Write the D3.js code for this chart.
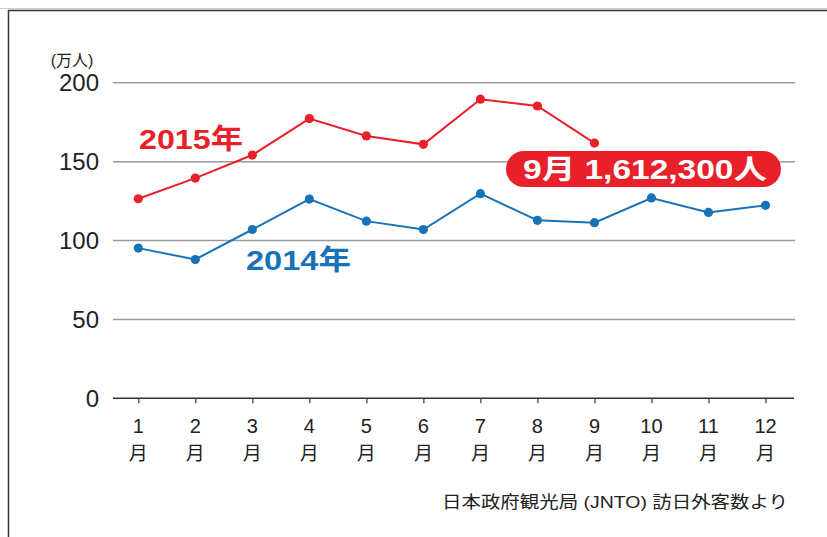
<!DOCTYPE html>
<html><head><meta charset="utf-8">
<script src="https://cdn.jsdelivr.net/npm/d3@7"></script>
<style>
html,body{margin:0;padding:0;background:#fff;}
svg{display:block;}
text{font-family:"Liberation Sans","Noto Sans CJK JP",sans-serif;}
</style></head>
<body>
<svg id="c" width="827" height="537"></svg>
<script>
const months = ["1","2","3","4","5","6","7","8","9","10","11","12"];
const values2014 = [95.2, 88.0, 107.0, 126.3, 112.3, 107.0, 129.7, 112.8, 111.3, 127.0, 117.8, 122.3];
const values2015 = [126.5, 139.6, 154.2, 177.3, 166.3, 161.0, 189.6, 185.3, 161.8];
const yTicks = [0, 50, 100, 150, 200];
const unitLabel = "(万人)";
const label2015 = "2015年";
const label2014 = "2014年";
const callout = "9月 1,612,300人";
const source = "日本政府観光局 (JNTO) 訪日外客数より";

const red = "#e8202a", blue = "#1872b8";
const svg = d3.select("#c");

// frame
svg.append("line").attr("x1",0).attr("x2",827).attr("y1",8.5).attr("y2",8.5).attr("stroke","#ccc").attr("stroke-width",1);
svg.append("path").attr("d","M8.5,537V10.5H827").attr("fill","none").attr("stroke","#333").attr("stroke-width",1.5);

const x = d3.scalePoint().domain(months).range([138.3, 765.5]);
const y = d3.scaleLinear().domain([0,200]).range([398.3, 82.8]);

// gridlines
svg.append("g").selectAll("line").data(yTicks.filter(d=>d>0)).join("line")
  .attr("x1",113).attr("x2",795).attr("y1",d=>y(d)).attr("y2",d=>y(d))
  .attr("stroke","#9a9a9a").attr("stroke-width",1.5);

// y labels
svg.append("g").selectAll("text").data(yTicks).join("text")
  .attr("x",99).attr("y",d=>y(d)).attr("dy","0.36em").attr("text-anchor","end")
  .attr("font-size",24).attr("fill","#222").text(d=>d);
svg.append("text").attr("x",72).attr("y",66).attr("text-anchor","middle")
  .attr("font-size",16).attr("fill","#222").text(unitLabel);

// x axis
const xAxis = d3.axisBottom(x).tickSize(5).tickFormat("");
const gx = svg.append("g").attr("transform",`translate(0,${y(0)})`).call(xAxis);
gx.select(".domain").remove();
gx.selectAll(".tick line").attr("stroke","#333").attr("stroke-width",1.2);
svg.append("line").attr("x1",113).attr("x2",794).attr("y1",y(0)).attr("y2",y(0)).attr("stroke","#333").attr("stroke-width",1.5);

const mg = svg.append("g").selectAll("g").data(months).join("g")
  .attr("transform",d=>`translate(${x(d)},0)`);
mg.append("text").attr("y",433).attr("text-anchor","middle").attr("font-size",20).attr("fill","#222").text(d=>d);
mg.append("text").attr("y",459.5).attr("text-anchor","middle").attr("font-size",19).attr("fill","#222")
  .style("font-family","'Noto Sans CJK JP',sans-serif").text("月");

// lines
const line = d3.line().x((d,i)=>x(months[i])).y(d=>y(d));
function series(vals,color){
  svg.append("path").datum(vals).attr("d",line).attr("fill","none").attr("stroke",color).attr("stroke-width",2);
  svg.append("g").selectAll("circle").data(vals).join("circle")
    .attr("cx",(d,i)=>x(months[i])).attr("cy",d=>y(d)).attr("r",4.6).attr("fill",color);
}
series(values2014, blue);
series(values2015, red);

// series labels
svg.append("text").attr("x",139).attr("y",149).attr("font-size",28).attr("font-weight","bold").attr("fill",red)
  .attr("textLength",104).attr("lengthAdjust","spacingAndGlyphs").text(label2015);
svg.append("text").attr("x",246).attr("y",270).attr("font-size",28).attr("font-weight","bold").attr("fill",blue)
  .attr("textLength",105).attr("lengthAdjust","spacingAndGlyphs").text(label2014);

// callout
svg.append("rect").attr("x",506).attr("y",151).attr("width",275).attr("height",36).attr("rx",18).attr("fill",red);
svg.append("text").attr("x",645).attr("y",179).attr("text-anchor","middle").attr("font-size",27).attr("font-weight","bold")
  .attr("fill","#fff").attr("textLength",244).attr("lengthAdjust","spacingAndGlyphs").text(callout);

// source
svg.append("text").attr("x",442).attr("y",508).attr("font-size",17).attr("fill","#222")
  .attr("textLength",346).attr("lengthAdjust","spacingAndGlyphs").text(source);
</script>
</body></html>
